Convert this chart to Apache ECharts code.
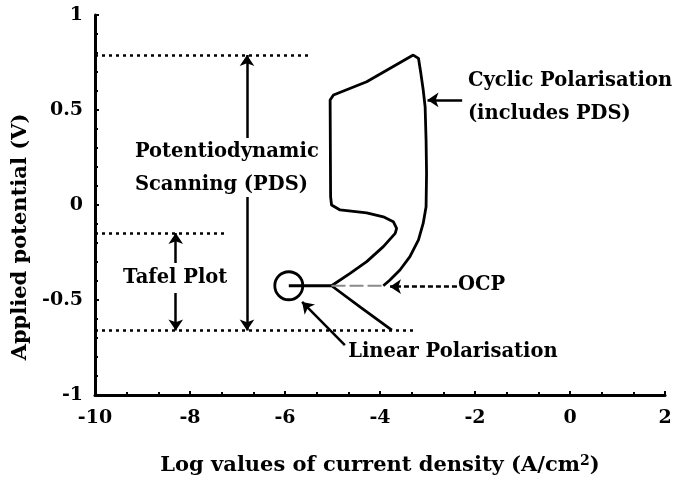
<!DOCTYPE html>
<html>
<head>
<meta charset="utf-8">
<script src="https://cdn.jsdelivr.net/npm/echarts@6/dist/echarts.min.js"></script>
<style>
  html, body { margin: 0; padding: 0; background: #fff; }
  #chart { width: 685px; height: 492px; }
</style>
</head>
<body>
<div id="chart"></div>
<script>
// values (x = log current density, y = potential V)
var xTicks = [-10, 2];
var yTicks = [-1, 1];

// cyclic polarisation loop, starting at the OCP branch point
var cyclicScan = [
  [-5.02, -0.425], [-4.63, -0.36], [-4.28, -0.298], [-3.93, -0.219], [-3.68, -0.149],
  [-3.65, -0.123], [-3.72, -0.088], [-3.93, -0.062], [-4.28, -0.041], [-4.84, -0.026],
  [-5.02, 0], [-5.04, 0.044], [-5.05, 0.553], [-4.98, 0.579], [-4.28, 0.649],
  [-3.30, 0.789], [-3.19, 0.772], [-3.14, 0.693], [-3.09, 0.605], [-3.05, 0.517],
  [-3.03, 0.342], [-3.02, 0.167], [-3.03, -0.009], [-3.09, -0.096], [-3.19, -0.184],
  [-3.37, -0.272], [-3.58, -0.342], [-3.79, -0.395], [-3.93, -0.425]
];
var cathodicBranch = [[-5.02, -0.425], [-4.4, -0.54], [-3.75, -0.658]];
var ocpLine = [[-5.92, -0.425], [-5.02, -0.425]];
var ocpExtension = [[-5.02, -0.425], [-3.93, -0.425]];
var linearCircle = [[-5.92, -0.425]];

// dotted guide levels
var guideLines = [
  [[-10, 0.79], [-5.47, 0.79]],
  [[-10, -0.147], [-7.2, -0.147]],
  [[-10, -0.66], [-3.3, -0.66]]
];

// range arrows (head at the end point)
var rangeArrows = [
  [[-6.8, 0.353], [-6.8, 0.79]],
  [[-6.8, 0.042], [-6.8, -0.66]],
  [[-8.3, -0.305], [-8.3, -0.147]],
  [[-8.3, -0.463], [-8.3, -0.66]],
  [[-2.27, 0.553], [-3.0, 0.553]],
  [[-4.74, -0.737], [-5.64, -0.51]]
];
var ocpArrow = [[[-2.38, -0.43], [-3.79, -0.43]]];

// text notes: left edge, vertical middle
var notes = [
  { text: 'Potentiodynamic\nScanning (PDS)', at: [-9.16, 0.195] },
  { text: 'Cyclic Polarisation\n(includes PDS)', at: [-2.15, 0.565] },
  { text: 'OCP', at: [-2.36, -0.42] },
  { text: 'Tafel Plot', at: [-9.41, -0.384] },
  { text: 'Linear Polarisation', at: [-4.67, -0.774] }
];

var FONT = 'DejaVu Serif';

var myChart = echarts.init(document.getElementById('chart'));

var option = {
  animation: false,
  backgroundColor: '#fff',
  grid: { left: 95, right: 20, top: 15, bottom: 97 },
  xAxis: {
    type: 'value',
    min: xTicks[0], max: xTicks[1], interval: 2,
    name: '{a|Log values of current density (A/cm}{sup|2}{a|)}',
    nameLocation: 'middle',
    nameGap: 59,
    nameTextStyle: {
      rich: {
        a: { fontFamily: FONT, fontWeight: 'bold', fontSize: 21, color: '#000' },
        sup: { fontFamily: FONT, fontWeight: 'bold', fontSize: 14, color: '#000', verticalAlign: 'top', padding: [0, 0, 10, 0] }
      }
    },
    axisLine: { onZero: false, lineStyle: { color: '#000', width: 3 } },
    axisTick: { show: true, inside: true, length: 4, lineStyle: { color: '#000', width: 2 } },
    minorTick: { show: true, splitNumber: 3, length: 3, lineStyle: { color: '#000', width: 2 } },
    axisLabel: { color: '#000', fontFamily: FONT, fontWeight: 'bold', fontSize: 19, margin: 14 },
    splitLine: { show: false }
  },
  yAxis: {
    type: 'value',
    min: yTicks[0], max: yTicks[1], interval: 0.5,
    name: 'Applied potential (V)',
    nameLocation: 'middle',
    nameGap: 60,
    nameTextStyle: { color: '#000', fontFamily: FONT, fontWeight: 'bold', fontSize: 21, padding: [0, 64, 0, 0] },
    axisLine: { onZero: false, lineStyle: { color: '#000', width: 3 } },
    axisTick: { show: true, inside: true, length: 4, lineStyle: { color: '#000', width: 2 } },
    minorTick: { show: true, splitNumber: 5, length: 3, lineStyle: { color: '#000', width: 2 } },
    axisLabel: { color: '#000', fontFamily: FONT, fontWeight: 'bold', fontSize: 19, margin: 12 },
    splitLine: { show: false }
  },
  series: [
    {
      type: 'line', data: cyclicScan, symbol: 'none', smooth: false,
      lineStyle: { color: '#000', width: 2.8 }
    },
    {
      type: 'line', data: cathodicBranch, symbol: 'none',
      lineStyle: { color: '#000', width: 2.8 }
    },
    {
      type: 'line', data: ocpLine, symbol: 'none',
      lineStyle: { color: '#000', width: 2.8 }
    },
    {
      type: 'line', data: ocpExtension, symbol: 'none',
      lineStyle: { color: '#8a8a8a', width: 2, type: [14, 4] }
    },
    {
      type: 'scatter', data: linearCircle, symbol: 'circle', symbolSize: 28,
      itemStyle: { color: 'rgba(0,0,0,0)', borderColor: '#000', borderWidth: 2.8, opacity: 1 }
    },
    {
      type: 'lines', coordinateSystem: 'cartesian2d', symbol: 'none',
      data: guideLines.map(function (c) { return { coords: c }; }),
      lineStyle: { color: '#000', width: 2.5, type: [3, 4], opacity: 1 }
    },
    {
      type: 'lines', coordinateSystem: 'cartesian2d',
      symbol: ['none', 'arrow'], symbolSize: 11,
      data: rangeArrows.map(function (c) { return { coords: c }; }),
      lineStyle: { color: '#000', width: 2.5, opacity: 1 }
    },
    {
      type: 'lines', coordinateSystem: 'cartesian2d',
      symbol: ['none', 'arrow'], symbolSize: 11,
      data: ocpArrow.map(function (c) { return { coords: c }; }),
      lineStyle: { color: '#000', width: 2.5, type: [5, 3], opacity: 1 }
    },
    {
      type: 'scatter', symbolSize: 0, silent: true,
      itemStyle: { opacity: 1 },
      data: notes.map(function (n) {
        return {
          value: n.at,
          label: {
            show: true, position: 'right', distance: 0,
            formatter: n.text, color: '#000',
            fontFamily: FONT, fontWeight: 'bold', fontSize: 19.5, lineHeight: 33
          }
        };
      })
    }
  ]
};

myChart.setOption(option);
</script>
</body>
</html>
